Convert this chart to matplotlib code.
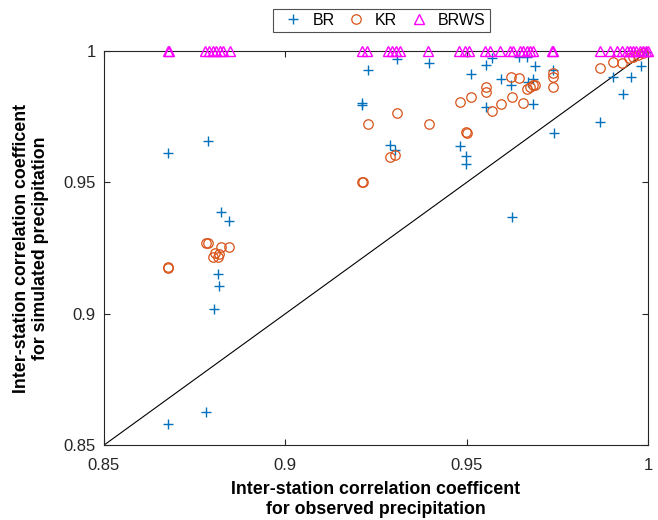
import matplotlib
matplotlib.use("Agg")
import matplotlib.pyplot as plt
import numpy as np

plt.rcParams['font.family'] = ['Liberation Sans', 'DejaVu Sans']

# inter-station correlation: observed (x) vs simulated (y)
br_obs = [0.8676, 0.8787, 0.8823, 0.8845, 0.8814, 0.8817, 0.8803, 0.8781, 0.8676,
          0.9228, 0.9211, 0.9211, 0.9308, 0.9289, 0.9302, 0.9396, 0.9512, 0.9553,
          0.9553, 0.9482, 0.9498, 0.9498, 0.9570, 0.9644, 0.9666, 0.9688, 0.9595,
          0.9622, 0.9669, 0.9683, 0.9683, 0.9738, 0.9741, 0.9868, 0.9903, 0.9953,
          0.9931, 0.9981, 0.9994, 0.9625]
br_sim = [0.9612, 0.9657, 0.9387, 0.9353, 0.9151, 0.9105, 0.9018, 0.8626, 0.8580,
          0.9928, 0.9802, 0.9794, 0.9970, 0.9642, 0.9623, 0.9954, 0.9912, 0.9947,
          0.9787, 0.9638, 0.9600, 0.9570, 0.9973, 0.9977, 0.9977, 0.9943, 0.9893,
          0.9871, 0.9882, 0.9893, 0.9798, 0.9928, 0.9688, 0.9730, 0.9901, 0.9901,
          0.9836, 0.9943, 0.9996, 0.9368]

kr_obs = [0.8676, 0.8676, 0.8781, 0.8787, 0.8801, 0.8806, 0.8814, 0.8817, 0.8823,
          0.8845, 0.9211, 0.9214, 0.9228, 0.9308, 0.9289, 0.9302, 0.9396, 0.9482,
          0.9512, 0.9498, 0.9501, 0.9553, 0.9553, 0.9570, 0.9595, 0.9622, 0.9644,
          0.9625, 0.9655, 0.9666, 0.9675, 0.9683, 0.9688, 0.9738, 0.9738, 0.9738,
          0.9868, 0.9903, 0.9928, 0.9947, 0.9958, 0.9972, 0.9986]
kr_sim = [0.9178, 0.9174, 0.9269, 0.9269, 0.9216, 0.9231, 0.9216, 0.9227, 0.9254,
          0.9254, 0.9501, 0.9501, 0.9722, 0.9764, 0.9596, 0.9604, 0.9722, 0.9806,
          0.9825, 0.9692, 0.9688, 0.9863, 0.9844, 0.9772, 0.9798, 0.9901, 0.9897,
          0.9825, 0.9802, 0.9855, 0.9863, 0.9871, 0.9871, 0.9916, 0.9901, 0.9863,
          0.9935, 0.9958, 0.9954, 0.9973, 0.9977, 0.9985, 0.9992]

brws_obs = [0.8676, 0.8679, 0.8778, 0.8789, 0.8801, 0.8809, 0.8820, 0.8828, 0.8847,
            0.9211, 0.9225, 0.9283, 0.9294, 0.9305, 0.9316, 0.9393, 0.9479, 0.9495,
            0.9506, 0.9550, 0.9564, 0.9592, 0.9619, 0.9628, 0.9647, 0.9655, 0.9666,
            0.9675, 0.9683, 0.9735, 0.9738, 0.9868, 0.9895, 0.9914, 0.9928, 0.9942,
            0.9950, 0.9959, 0.9967, 0.9978, 0.9986, 0.9994, 1.0]
brws_sim = [1.0] * len(brws_obs)

fig = plt.figure(figsize=(6.58, 5.20), dpi=100)
ax = fig.add_axes([0.158, 0.144, 0.827, 0.758])

ax.plot([0.85, 1], [0.85, 1], color='k', lw=0.8, zorder=1)
ax.plot(br_obs, br_sim, '+', color='#0072BD', ms=7, mew=1.0, label='BR', clip_on=False, zorder=3)
ax.plot(kr_obs, kr_sim, 'o', color='#D95319', mfc='none', ms=6.8, mew=0.9, label='KR', clip_on=False, zorder=3)
ax.plot(brws_obs, brws_sim, '^', color='#FF00FF', mfc='none', ms=6.5, mew=1.0, label='BRWS', clip_on=False, zorder=4)

ax.set_xlim(0.85, 1)
ax.set_ylim(0.85, 1)
ax.set_xticks([0.85, 0.9, 0.95, 1])
ax.set_xticklabels(['0.85', '0.9', '0.95', '1'])
ax.set_yticks([0.85, 0.9, 0.95, 1])
ax.set_yticklabels(['0.85', '0.9', '0.95', '1'])
ax.tick_params(direction='in', top=True, right=True, length=4, labelsize=12, colors='#262626')
ax.tick_params(axis='x', pad=9)
ax.tick_params(axis='y', pad=6)
for s in ax.spines.values():
    s.set_color('#262626')
    s.set_linewidth(0.8)

ax.set_xlabel('Inter-station correlation coefficent\nfor observed precipitation',
              fontsize=12.8, fontweight='bold', labelpad=6)
ax.set_ylabel('Inter-station correlation coefficent\nfor simulated precipitation',
              fontsize=12.8, fontweight='bold', labelpad=10)

leg = ax.legend(loc='lower center', bbox_to_anchor=(0.51, 1.048), ncol=3, frameon=True,
                fancybox=False, edgecolor='#262626', fontsize=11.5, handletextpad=0.2,
                columnspacing=0.35, borderpad=0.25, handlelength=2.0, borderaxespad=0)
leg.get_frame().set_linewidth(0.8)

fig.savefig('out.png', dpi=100)
